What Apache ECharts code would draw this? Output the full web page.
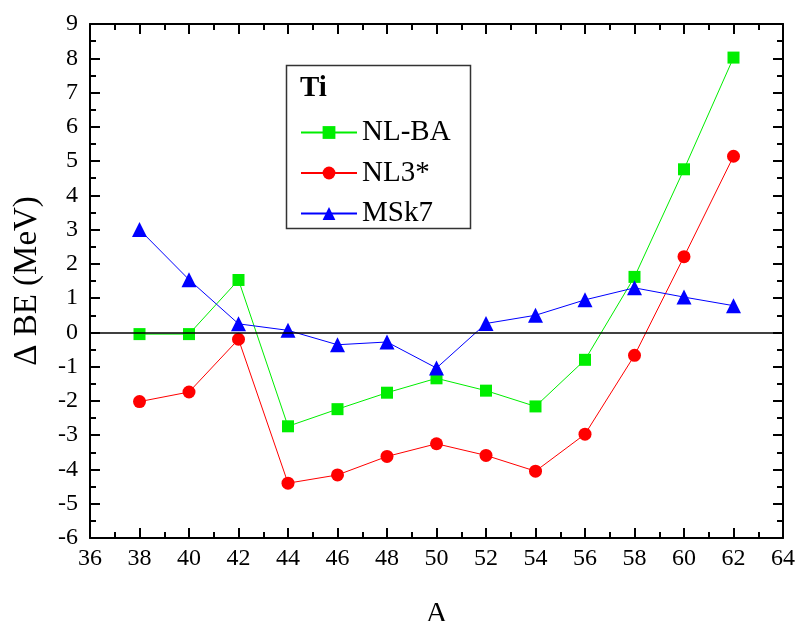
<!DOCTYPE html>
<html><head><meta charset="utf-8">
<script src="https://cdn.jsdelivr.net/npm/echarts@6/dist/echarts.min.js"></script>
<style>html,body{margin:0;padding:0;background:#fff}#c{width:800px;height:621px}</style>
</head><body><div id="c"></div>
<script>
const A = [38,40,42,44,46,48,50,52,54,56,58,60,62];
const nlba = [-0.05,-0.05,1.53,-2.74,-2.24,-1.76,-1.34,-1.70,-2.16,-0.80,1.62,4.76,8.02];
const nl3s = [-2.02,-1.74,-0.20,-4.40,-4.16,-3.62,-3.25,-3.59,-4.05,-2.97,-0.67,2.21,5.14];
const msk7 = [3.0,1.54,0.25,0.06,-0.36,-0.28,-1.04,0.26,0.50,0.95,1.30,1.03,0.78];
const seriesNames = ['NL-BA','NL3*','MSk7'];
const legendTitle = 'Ti';
const xName = 'A';
const yName = '\u0394 BE (MeV)';

const F = '"Liberation Serif", "Times New Roman", serif';
const pair = arr => A.map((a,i)=>[a,arr[i]]);
function axis(kind, pos, withLabel){
  const isX = kind === 'x';
  const o = {
    type:'value',
    min: isX ? 36 : -6,
    max: isX ? 64 : 9,
    interval: isX ? 2 : 1,
    position: pos,
    axisLine:{show:true,onZero:false,lineStyle:{color:'#000',width:2}},
    axisTick:{show:true,inside:true,length:10,lineStyle:{color:'#000',width:2}},
    minorTick:{show:true,splitNumber:2,length:6,lineStyle:{color:'#000',width:2}},
    splitLine:{show:true,lineStyle:{color:'rgba(0,0,0,0)',width:0}},
    minorSplitLine:{show:false},
    axisLabel:{show:withLabel,fontFamily:F,fontSize:24,color:'#000',margin: isX ? 9 : 12}
  };
  if (withLabel) {
    o.name = isX ? xName : yName;
    o.nameLocation = 'middle';
    o.nameGap = isX ? 61 : 46;
    o.nameTextStyle = {fontFamily:F,fontSize: isX ? 30 : 33,color:'#000'};
  }
  return o;
}
const chart = echarts.init(document.getElementById('c'));
chart.setOption({
  animation:false,
  backgroundColor:'#fff',
  textStyle:{fontFamily:F},
  grid:{left:90,right:17,top:24,bottom:83,containLabel:false,outerBoundsMode:'none'},
  legend:{
    orient:'vertical', left:300, top:118, padding:0,
    itemWidth:56, itemHeight:16, itemGap:11.5,
    textStyle:{fontFamily:F,fontSize:29,color:'#000',lineHeight:29},
    data:seriesNames
  },
  graphic:[
    {type:'rect',left:284,top:63,shape:{width:184,height:163},style:{fill:'none',stroke:'#333',lineWidth:1.5},z:0},
    {type:'text',left:300,top:74,style:{text:legendTitle,font:'bold 29px "Liberation Serif"',fill:'#000'}}
  ],
  xAxis:[axis('x','bottom',true), axis('x','top',false)],
  yAxis:[axis('y','left',true), axis('y','right',false)],
  series:[
    {name:seriesNames[0],type:'line',data:pair(nlba),symbol:'rect',symbolSize:12,
     itemStyle:{color:'#00ee00'},lineStyle:{color:'#00ee00',width:1},
     markLine:{silent:true,symbol:'none',label:{show:false},
       lineStyle:{color:'#000',width:1.5,type:'solid'},data:[{yAxis:0}]}},
    {name:seriesNames[1],type:'line',data:pair(nl3s),symbol:'circle',symbolSize:13,
     itemStyle:{color:'#ff0000'},lineStyle:{color:'#ff0000',width:1}},
    {name:seriesNames[2],type:'line',data:pair(msk7),symbol:'triangle',symbolSize:15,
     itemStyle:{color:'#0000ff'},lineStyle:{color:'#0000ff',width:1}}
  ]
});
</script></body></html>
